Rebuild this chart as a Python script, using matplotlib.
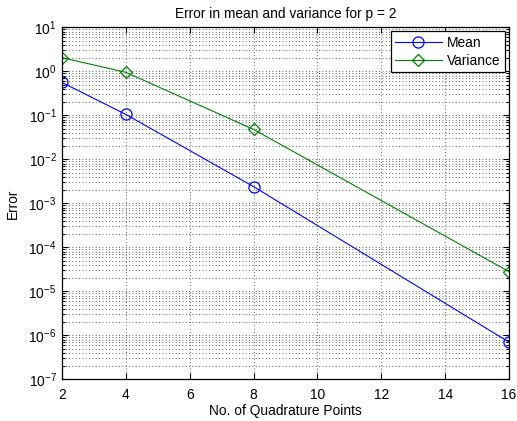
import matplotlib
matplotlib.use('Agg')
import matplotlib.pyplot as plt
from matplotlib import font_manager
from matplotlib.ticker import LogLocator, NullFormatter

# quadrature points and the resulting errors
n_points = [2, 4, 8, 16]
mean_err = [0.56, 0.105, 0.0024, 7.0e-7]
var_err = [2.05, 0.95, 0.048, 2.8e-5]

# pick the regular (non-narrow) Liberation Sans
fname = None
for f in font_manager.findSystemFonts():
    if f.endswith('LiberationSans-Regular.ttf'):
        fname = f
        break
if fname:
    font_manager.fontManager.addfont(fname)
    family = font_manager.FontProperties(fname=fname).get_name()
else:
    family = 'DejaVu Sans'

plt.rcParams['font.family'] = [family, 'DejaVu Sans']
plt.rcParams['mathtext.fontset'] = 'custom'
plt.rcParams['mathtext.rm'] = family
plt.rcParams['mathtext.it'] = family

fs = 9.9

fig = plt.figure(figsize=(5.17, 4.21), dpi=100)
ax = fig.add_axes([0.1199, 0.099, 0.8646, 0.836])

ax.semilogy(n_points, mean_err, '-o', color='#0000ff', lw=0.8,
            markersize=8, markerfacecolor='none', markeredgewidth=0.9,
            label='Mean')
ax.semilogy(n_points, var_err, '-D', color='#008000', lw=0.8,
            markersize=6, markerfacecolor='none', markeredgewidth=0.9,
            label='Variance')

ax.set_xlim(2, 16)
ax.set_ylim(1e-7, 1e1)
ax.set_xticks(range(2, 17, 2))
ax.yaxis.set_major_locator(LogLocator(base=10, numticks=20))
ax.yaxis.set_minor_locator(LogLocator(base=10, subs=range(2, 10), numticks=20))
ax.yaxis.set_minor_formatter(NullFormatter())

grid_style = dict(color='#303030', lw=0.6, dashes=(1, 3))
ax.grid(True, which='major', **grid_style)
ax.grid(True, which='minor', axis='y', **grid_style)
ax.tick_params(which='both', direction='in', top=True, right=True, width=0.8)
ax.tick_params(which='major', length=4, labelsize=fs, pad=4)
ax.tick_params(axis='x', which='major', pad=6)
ax.tick_params(which='minor', length=2)
for sp in ax.spines.values():
    sp.set_linewidth(0.9)

ax.set_xlabel('No. of Quadrature Points', fontsize=fs, labelpad=2)
ax.set_ylabel('Error', fontsize=fs, labelpad=6)
ax.set_title('Error in mean and variance for p = 2', fontsize=fs, pad=7)

leg = ax.legend(loc='upper right', fontsize=fs, fancybox=False,
                framealpha=1, borderaxespad=0.3, handlelength=3.4,
                borderpad=0.3, labelspacing=0.3, handletextpad=0.4)
leg.get_frame().set_edgecolor('k')
leg.get_frame().set_linewidth(0.9)

plt.savefig('out.png', dpi=100)
